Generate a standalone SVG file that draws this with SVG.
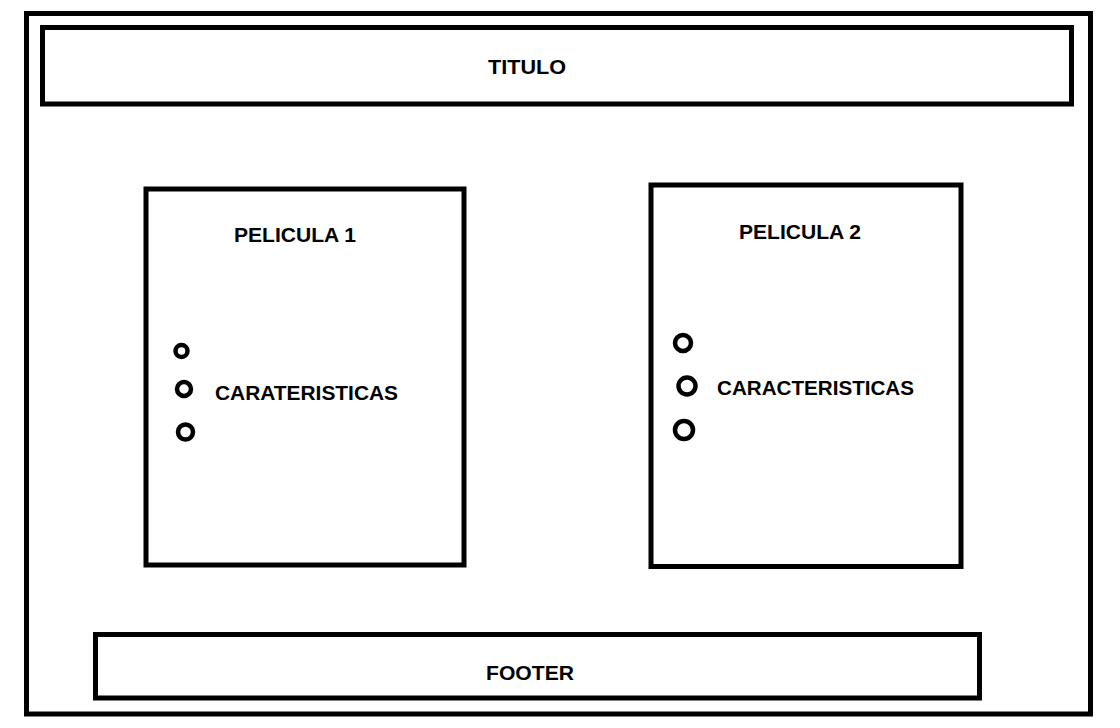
<svg xmlns="http://www.w3.org/2000/svg" width="1120" height="728" viewBox="0 0 1120 728">
<style>
.box{fill:none;stroke:#000;stroke-width:5}
.dot{fill:none;stroke:#000;stroke-width:4.5}
.lbl{font-family:"Liberation Sans",Arial,sans-serif;font-weight:bold;font-size:21px;fill:#000}
</style>
<rect width="1120" height="728" fill="#fff"/>
<g id="frame"><rect class="box" x="26.5" y="13.5" width="1064" height="700.5"/></g>
<g id="titulo"><rect class="box" x="42.5" y="27.5" width="1029" height="76.5"/>
<text class="lbl" x="488" y="74" textLength="78" lengthAdjust="spacingAndGlyphs">TITULO</text></g>
<g id="pelicula1"><rect class="box" x="146" y="189" width="318" height="376"/>
<text class="lbl" x="234" y="242" textLength="122" lengthAdjust="spacingAndGlyphs">PELICULA 1</text>
<circle class="dot" cx="181.5" cy="351" r="6"/>
<circle class="dot" cx="184" cy="389" r="7"/>
<circle class="dot" cx="185.5" cy="432" r="7.5"/>
<text class="lbl" x="215" y="400" textLength="183" lengthAdjust="spacingAndGlyphs">CARATERISTICAS</text></g>
<g id="pelicula2"><rect class="box" x="651" y="185" width="310" height="381.5"/>
<text class="lbl" x="739" y="239" textLength="122" lengthAdjust="spacingAndGlyphs">PELICULA 2</text>
<circle class="dot" cx="683" cy="343" r="8"/>
<circle class="dot" cx="687" cy="386" r="8.5"/>
<circle class="dot" cx="684" cy="430" r="9"/>
<text class="lbl" x="717" y="395" textLength="197" lengthAdjust="spacingAndGlyphs">CARACTERISTICAS</text></g>
<g id="footer"><rect class="box" x="95.5" y="634.5" width="884" height="63.5"/>
<text class="lbl" x="486" y="680" textLength="88" lengthAdjust="spacingAndGlyphs">FOOTER</text></g>
<g id="connectors"></g>
</svg>
